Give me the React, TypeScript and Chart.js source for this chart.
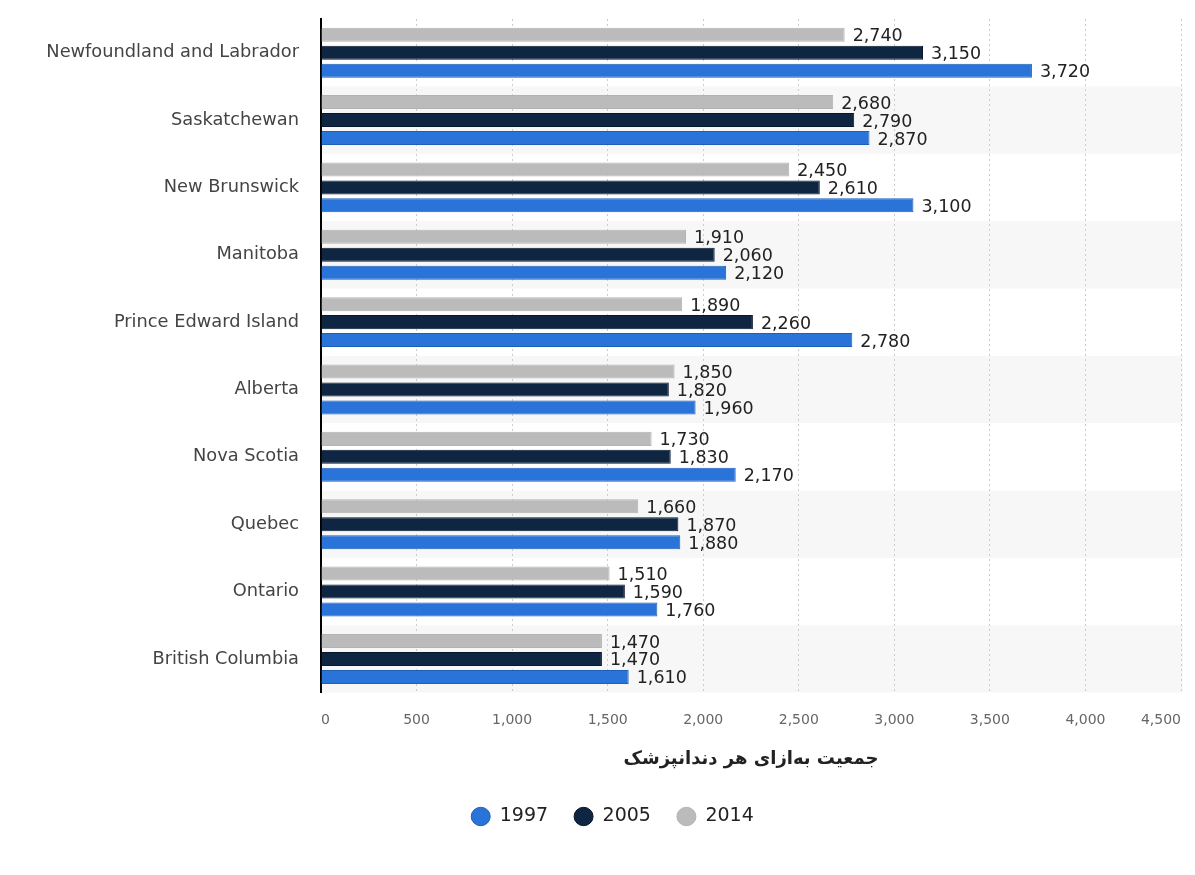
import React, { useEffect, useRef } from "react";
import { Chart, registerables } from "chart.js";

Chart.register(...registerables);

const provinces = [
  "Newfoundland and Labrador",
  "Saskatchewan",
  "New Brunswick",
  "Manitoba",
  "Prince Edward Island",
  "Alberta",
  "Nova Scotia",
  "Quebec",
  "Ontario",
  "British Columbia",
];
const values2014 = [2740, 2680, 2450, 1910, 1890, 1850, 1730, 1660, 1510, 1470];
const values2005 = [3150, 2790, 2610, 2060, 2260, 1820, 1830, 1870, 1590, 1470];
const values1997 = [3720, 2870, 3100, 2120, 2780, 1960, 2170, 1880, 1760, 1610];
const axisTitle = "جمعیت به‌ازای هر دندانپزشک";
const xMax = 4500;
const xStep = 500;

const FONT = "'DejaVu Sans', sans-serif";
const fmt = (v: number) => Number(v).toLocaleString("en-US");

const bandPlugin = {
  id: "bands",
  beforeDraw(chart: any) {
    const { ctx, chartArea } = chart;
    const y = chart.scales.y;
    const n = provinces.length;
    const step = (chartArea.bottom - chartArea.top) / n;
    ctx.save();
    ctx.fillStyle = "#f7f7f7";
    for (let i = 0; i < n; i++) {
      if (i % 2 === 1) {
        const c = y.getPixelForValue(i);
        ctx.fillRect(chartArea.left, c - step / 2, chartArea.right - chartArea.left + 2, step);
      }
    }
    ctx.restore();
  },
};

const labelPlugin = {
  id: "valueLabels",
  afterDatasetsDraw(chart: any) {
    const { ctx } = chart;
    ctx.save();
    ctx.font = "17.5px 'DejaVu Sans', sans-serif";
    ctx.fillStyle = "#222222";
    ctx.textAlign = "left";
    ctx.textBaseline = "middle";
    chart.data.datasets.forEach((ds: any, di: number) => {
      const meta = chart.getDatasetMeta(di);
      meta.data.forEach((el: any, i: number) => {
        ctx.fillText(fmt(ds.data[i]), el.x + 8, el.y + 2);
      });
    });
    ctx.restore();
  },
};

export default function App() {
  const ref = useRef<HTMLCanvasElement | null>(null);
  useEffect(() => {
    document.body.style.margin = "0";
    if (!ref.current) return;
    const chart = new Chart(ref.current, {
      type: "bar",
      data: {
        labels: provinces,
        datasets: [
          {
            label: "2014",
            data: values2014,
            backgroundColor: "#bbbbbb",
            borderColor: "#b3b3b3",
            borderWidth: 1,
          },
          {
            label: "2005",
            data: values2005,
            backgroundColor: "#0f2642",
            borderColor: "#07182c",
            borderWidth: 1,
          },
          {
            label: "1997",
            data: values1997,
            backgroundColor: "#2a73d9",
            borderColor: "#1f5fb8",
            borderWidth: 1,
          },
        ],
      },
      options: {
        indexAxis: "y",
        animation: false,
        responsive: false,
        maintainAspectRatio: false,
        layout: { padding: { top: 19, left: 44, right: 14, bottom: 39 } },
        datasets: {
          bar: { categoryPercentage: 0.8, barPercentage: 0.78 },
        },
        scales: {
          x: {
            min: 0,
            max: xMax,
            border: { display: false, dash: [2, 3] },
            grid: {
              color: "#cccccc",
              drawTicks: false,
            },
            ticks: {
              stepSize: xStep,
              padding: 19,
              align: "inner",
              color: "#666666",
              font: { family: FONT, size: 14 },
              callback: (v: any) => fmt(v),
            },
            title: {
              display: true,
              text: axisTitle,
              color: "#222222",
              font: { family: FONT, size: 18, weight: "bold" },
              padding: { top: 1, bottom: 11 },
            },
            afterFit: (scale: any) => {
              scale.paddingLeft = 0;
              scale.paddingRight = 0;
            },
          },
          y: {
            border: { display: true, color: "#000000", width: 2 },
            grid: { display: false },
            ticks: {
              padding: 14,
              color: "#444444",
              font: { family: FONT, size: 17.8 },
            },
            afterFit: (scale: any) => {
              scale.width = 321 - 44;
              scale.paddingTop = 0;
              scale.paddingBottom = 0;
            },
          },
        },
        plugins: {
          legend: {
            position: "bottom",
            reverse: true,
            labels: {
              usePointStyle: true,
              pointStyle: "circle",
              boxWidth: 13,
              boxHeight: 13,
              pointStyleWidth: 19,
              padding: 26,
              color: "#222222",
              font: { family: FONT, size: 19 },
            },
          },
          tooltip: { enabled: false },
        },
      } as any,
      plugins: [bandPlugin, labelPlugin],
    });
    return () => chart.destroy();
  }, []);
  return (
    <div style={{ width: 1195, height: 875, background: "#ffffff" }}>
      <canvas ref={ref} width={1195} height={875} style={{ width: 1195, height: 875 }} />
    </div>
  );
}
